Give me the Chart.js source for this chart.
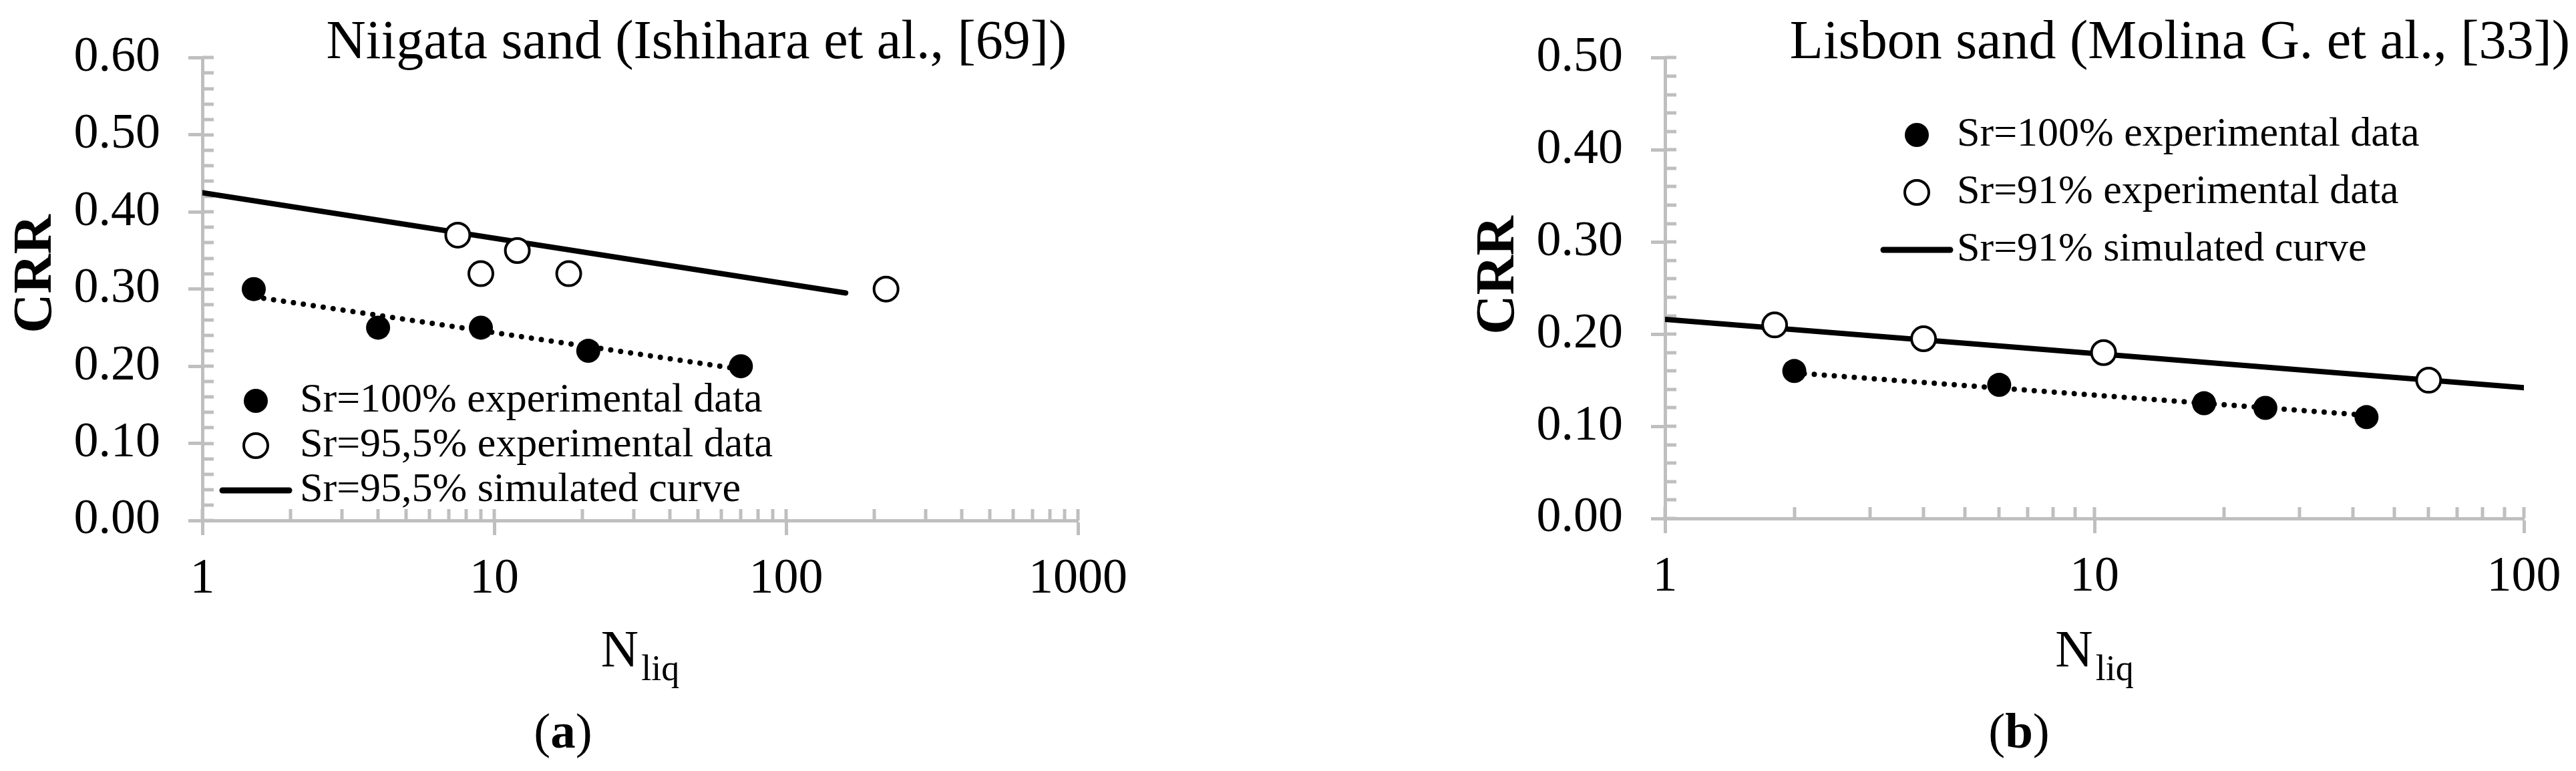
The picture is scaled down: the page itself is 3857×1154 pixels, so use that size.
<!DOCTYPE html>
<html><head><meta charset="utf-8">
<script src="https://cdn.jsdelivr.net/npm/chart.js@4.4.1/dist/chart.umd.min.js"></script>
<style>
html,body{margin:0;padding:0;background:#fff;}
body{width:3857px;height:1154px;position:relative;overflow:hidden;}
canvas{position:absolute;top:0;}
#ca{left:0;}
#cb{left:2140px;}
</style></head><body>
<canvas id="ca" width="1720" height="1154"></canvas>
<canvas id="cb" width="1717" height="1154"></canvas>
<script>
// ---------- DATA ----------
const niigataTitle = 'Niigata sand (Ishihara et al., [69])';
const niigataLegend = ['Sr=100% experimental data', 'Sr=95,5% experimental data', 'Sr=95,5% simulated curve'];
const niigataSr100X = [1.5, 4, 9, 21, 70];
const niigataSr100Y = [0.30, 0.25, 0.25, 0.22, 0.20];
const niigataSr955X = [7.5, 9, 12, 18, 220];
const niigataSr955Y = [0.37, 0.32, 0.35, 0.32, 0.30];
const niigataSimX = [1, 160];
const niigataSimY = [0.425, 0.295];
const niigataTrendX = [1.5, 70];
const niigataTrendY = [0.29, 0.196];
const niigataYTicks = [0, 0.1, 0.2, 0.3, 0.4, 0.5, 0.6];
const niigataXTicks = [1, 10, 100, 1000];

const lisbonTitle = 'Lisbon sand (Molina G. et al., [33])';
const lisbonLegend = ['Sr=100% experimental data', 'Sr=91% experimental data', 'Sr=91% simulated curve'];
const lisbonSr100X = [2, 6, 18, 25, 43];
const lisbonSr100Y = [0.16, 0.145, 0.125, 0.12, 0.11];
const lisbonSr91X = [1.8, 4, 10.5, 60];
const lisbonSr91Y = [0.21, 0.195, 0.18, 0.15];
const lisbonSimX = [1, 100];
const lisbonSimY = [0.216, 0.142];
const lisbonTrendX = [2, 43];
const lisbonTrendY = [0.158, 0.112];
const lisbonYTicks = [0, 0.1, 0.2, 0.3, 0.4, 0.5];
const lisbonXTicks = [1, 10, 100];

const yTitle = 'CRR';
const xTitleMain = 'N';
const xTitleSub = 'liq';
// ---------------------------

const FONT = 'Liberation Serif';
const AXIS = '#BFBFBF';
const zip = (xs, ys) => xs.map((x, i) => ({x: x, y: ys[i]}));

function decorPlugin(o) {
  return {
    id: 'decor',
    beforeDatasetsDraw(chart) {
      const ctx = chart.ctx, xs = chart.scales.x, ys = chart.scales.y;
      const {left, bottom} = chart.chartArea;
      ctx.save();
      ctx.strokeStyle = AXIS; ctx.lineWidth = 5; ctx.lineCap = 'butt';
      const yt = o.yTicks;
      for (let i = 0; i < yt.length; i++) {
        const n = i < yt.length - 1 ? 5 : 1;
        for (let k = 0; k < n; k++) {
          const v = i < yt.length - 1 ? yt[i] + k * (yt[i + 1] - yt[i]) / 5 : yt[i];
          const py = Math.round(ys.getPixelForValue(v));
          ctx.beginPath(); ctx.moveTo(left, py); ctx.lineTo(left + 17, py); ctx.stroke();
        }
      }
      const xt = o.xTicks;
      for (let i = 0; i < xt.length; i++) {
        const n = i < xt.length - 1 ? 9 : 1;
        for (let m = 1; m <= n; m++) {
          const px = Math.round(xs.getPixelForValue(xt[i] * m));
          ctx.beginPath(); ctx.moveTo(px, bottom); ctx.lineTo(px, bottom - 17); ctx.stroke();
        }
      }
      ctx.restore();
    },
    afterDraw(chart) {
      const ctx = chart.ctx;
      const {left, right} = chart.chartArea;
      ctx.save();
      ctx.fillStyle = '#000';
      // title
      ctx.font = '82px "' + FONT + '"';
      ctx.textAlign = 'center'; ctx.textBaseline = 'alphabetic';
      ctx.fillText(o.title, o.titleX, 87);
      // y title
      ctx.save();
      ctx.translate(o.yTitleX, o.yTitleY);
      ctx.rotate(-Math.PI / 2);
      ctx.font = 'bold 82px "' + FONT + '"';
      ctx.textAlign = 'center'; ctx.textBaseline = 'middle';
      ctx.fillText(yTitle, 0, 0);
      ctx.restore();
      // x title N_liq
      ctx.textAlign = 'left'; ctx.textBaseline = 'alphabetic';
      ctx.font = '78px "' + FONT + '"';
      const wN = ctx.measureText(xTitleMain).width;
      ctx.font = '54px "' + FONT + '"';
      const wS = ctx.measureText(xTitleSub).width;
      const cx = (left + right) / 2;
      const x0 = cx - (wN + 4 + wS) / 2;
      ctx.font = '78px "' + FONT + '"';
      ctx.fillText(xTitleMain, x0, 997);
      ctx.font = '54px "' + FONT + '"';
      ctx.fillText(xTitleSub, x0 + wN + 4, 1018);
      // caption
      ctx.font = '75px "' + FONT + '"';
      const wp = ctx.measureText('(').width, wp2 = ctx.measureText(')').width;
      ctx.font = 'bold 75px "' + FONT + '"';
      const wl = ctx.measureText(o.caption).width;
      const cxs = o.captionX - (wp + wl + wp2) / 2;
      ctx.font = '75px "' + FONT + '"';
      ctx.fillText('(', cxs, 1119);
      ctx.font = 'bold 75px "' + FONT + '"';
      ctx.fillText(o.caption, cxs + wp, 1119);
      ctx.font = '75px "' + FONT + '"';
      ctx.fillText(')', cxs + wp + wl, 1119);
      // legend
      const ds = chart.data.datasets;
      ctx.font = '62px "' + FONT + '"';
      ctx.textBaseline = 'middle';
      for (let i = 0; i < 3; i++) {
        const d = ds[i], ry = o.legendRows[i];
        if (i < 2) {
          ctx.beginPath();
          ctx.arc(o.legendMarkX, ry, 18, 0, Math.PI * 2);
          ctx.fillStyle = d.pointBackgroundColor; ctx.fill();
          if (d.pointBorderWidth > 0) {
            ctx.lineWidth = d.pointBorderWidth; ctx.strokeStyle = d.pointBorderColor; ctx.stroke();
          }
        } else {
          ctx.beginPath();
          ctx.moveTo(o.legendMarkX - 50, ry); ctx.lineTo(o.legendMarkX + 50, ry);
          ctx.lineWidth = 9; ctx.strokeStyle = d.borderColor; ctx.lineCap = 'round'; ctx.stroke();
        }
        ctx.fillStyle = '#000';
        ctx.fillText(d.label, o.legendTextX, ry);
      }
      ctx.restore();
    }
  };
}

function makeChart(id, o) {
  const tickFont = {family: FONT, size: 74};
  return new Chart(document.getElementById(id), {
    type: 'scatter',
    data: {
      datasets: [
        {label: o.legend[0], data: zip(o.fx, o.fy), pointRadius: 18, pointHoverRadius: 18,
         pointBackgroundColor: '#000', pointBorderColor: '#000', pointBorderWidth: 0, showLine: false},
        {label: o.legend[1], data: zip(o.ox, o.oy), pointRadius: 18, pointHoverRadius: 18,
         pointBackgroundColor: '#fff', pointBorderColor: '#000', pointBorderWidth: 4, showLine: false},
        {label: o.legend[2], data: zip(o.sx, o.sy), showLine: true, borderColor: '#000',
         borderWidth: 8, pointRadius: 0, borderCapStyle: 'round'},
        {label: 'trend', data: zip(o.tx, o.ty), showLine: true, borderColor: '#000',
         borderWidth: 8, borderDash: [0.01, 15], borderCapStyle: 'round', pointRadius: 0}
      ]
    },
    options: {
      responsive: false, animation: false, devicePixelRatio: 1,
      layout: {padding: {left: 0, top: o.top, right: o.padRight, bottom: 0}},
      plugins: {legend: {display: false}, tooltip: {enabled: false}, title: {display: false}},
      scales: {
        x: {
          type: 'logarithmic', min: o.xTicks[0], max: o.xTicks[o.xTicks.length - 1],
          afterBuildTicks: s => { s.ticks = o.xTicks.map(v => ({value: v, major: true})); },
          afterFit: s => { s.height = 1154 - o.bottom; },
          ticks: {callback: v => String(v), font: tickFont, color: '#000', padding: 22,
                  maxRotation: 0, autoSkip: false},
          grid: {drawOnChartArea: false, drawTicks: true, tickLength: 22, tickWidth: 5, tickColor: AXIS},
          border: {display: true, color: AXIS, width: 5}
        },
        y: {
          type: 'linear', min: o.yTicks[0], max: o.yTicks[o.yTicks.length - 1],
          afterBuildTicks: s => { s.ticks = o.yTicks.map(v => ({value: v})); },
          afterFit: s => { s.width = o.left; },
          ticks: {callback: v => Number(v).toFixed(2), font: tickFont, color: '#000', padding: 42, autoSkip: false},
          grid: {drawOnChartArea: false, drawTicks: true, tickLength: 21, tickWidth: 5, tickColor: AXIS},
          border: {display: true, color: AXIS, width: 5}
        }
      }
    },
    plugins: [decorPlugin(o)]
  });
}

makeChart('ca', {
  legend: niigataLegend, title: niigataTitle, caption: 'a',
  fx: niigataSr100X, fy: niigataSr100Y, ox: niigataSr955X, oy: niigataSr955Y,
  sx: niigataSimX, sy: niigataSimY, tx: niigataTrendX, ty: niigataTrendY,
  xTicks: niigataXTicks, yTicks: niigataYTicks,
  left: 303, top: 53, bottom: 779, padRight: 1720 - 1614,
  titleX: 1043, yTitleX: 55, yTitleY: 410, captionX: 843,
  legendRows: [600, 667, 734], legendMarkX: 383, legendTextX: 449
});

makeChart('cb', {
  legend: lisbonLegend, title: lisbonTitle, caption: 'b',
  fx: lisbonSr100X, fy: lisbonSr100Y, ox: lisbonSr91X, oy: lisbonSr91Y,
  sx: lisbonSimX, sy: lisbonSimY, tx: lisbonTrendX, ty: lisbonTrendY,
  xTicks: lisbonXTicks, yTicks: lisbonYTicks,
  left: 2493 - 2140, top: 49, bottom: 776, padRight: 3857 - 3779,
  titleX: 3264 - 2140, yTitleX: 2245 - 2140, yTitleY: 412, captionX: 3023 - 2140,
  legendRows: [202, 288, 374], legendMarkX: 2870 - 2140, legendTextX: 2930 - 2140
});
</script>
</body></html>
